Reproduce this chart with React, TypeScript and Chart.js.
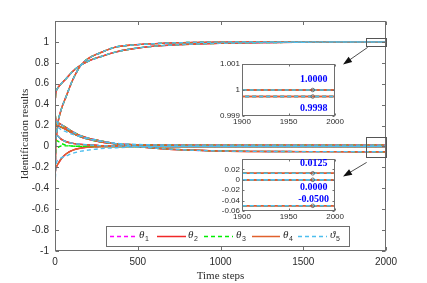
import React, { useEffect, useRef } from 'react';
import { Chart, registerables } from 'chart.js';
Chart.register(...registerables);

// ---------- data ----------
const steps = [0, 2, 5, 10, 17, 37, 68, 108, 158, 200, 270, 370, 450, 570, 770, 1000, 1300, 1600, 1900, 2000];

// shared trajectories (value at index 0 replaced by each series' start value)
const pathToOne = [0, -0.2, 0.05, 0.12, 0.22, 0.35, 0.48, 0.64, 0.78, 0.84, 0.894, 0.952, 0.968, 0.981, 0.993, 0.998, 0.9995, 0.9999, 1.0, 1.0];
const pathNearOne = [0, 0.45, 0.52, 0.54, 0.56, 0.6, 0.65, 0.72, 0.78, 0.815, 0.856, 0.905, 0.93, 0.955, 0.975, 0.987, 0.994, 0.998, 0.99975, 0.99975];
const pathToPos = [0, 0.25, 0.21, 0.205, 0.2, 0.185, 0.16, 0.125, 0.09, 0.07, 0.045, 0.025, 0.018, 0.014, 0.0128, 0.0125, 0.0125, 0.0125, 0.0125, 0.0125];
const pathToNeg = [0, 0.3, 0.24, 0.235, 0.228, 0.21, 0.18, 0.14, 0.1, 0.08, 0.055, 0.025, 0.008, -0.012, -0.032, -0.043, -0.048, -0.0495, -0.05, -0.05];
const pathZeroUpper = [0, 0.15, 0.12, 0.11, 0.1, 0.07, 0.045, 0.03, 0.02, 0.015, 0.008, 0.004, 0.002, 0.001, 0, 0, 0, 0, 0, 0];
const pathZeroLower = [0, -0.25, -0.2, -0.19, -0.17, -0.12, -0.07, -0.035, -0.015, -0.008, -0.002, 0, 0, 0, 0, 0, 0, 0, 0, 0];

// series-specific trajectories
const theta3ZeroUpper = [0, 0.08, 0.06, 0.055, 0.05, 0.03, 0.012, 0.004, 0.001, 0, 0, 0, 0, 0, 0, 0, 0, 0, 0, 0];
const theta3ZeroLower = [0, -0.1, -0.03, -0.015, -0.01, 0.005, 0.006, 0.003, 0.001, 0, 0, 0, 0, 0, 0, 0, 0, 0, 0, 0];
const theta5Pos = [0, 0.1, 0.15, 0.17, 0.18, 0.16, 0.14, 0.115, 0.09, 0.072, 0.05, 0.03, 0.022, 0.016, 0.013, 0.0125, 0.0125, 0.0125, 0.0125, 0.0125];
const theta5Lower = [0, -0.3, -0.2, -0.15, -0.13, -0.11, -0.09, -0.065, -0.045, -0.035, -0.022, -0.012, -0.007, -0.003, -0.001, 0, 0, 0, 0, 0];

// start values at step 0, one per trajectory
const theta1Start = [0.95, 0.3, 0.1, 0.2, -0.1, 0.05];
const theta2Start = [0.6, 0.5, -0.3, 0.3, -0.5, 0.2];
const theta3Start = [-0.8, 0.4, -0.6, 0.1, -0.3, 0.0];
const theta4Start = [0.9, 0.55, -0.45, 0.25, -0.2, 0.1];
const theta5Start = [-0.6, 0.2, -0.35, 0.15, -0.4, -0.1];

const legendNames = ['θ', 'θ', 'θ', 'θ', 'ϑ'];
const legendSubs = ['1', '2', '3', '4', '5'];

const xTicks = [0, 500, 1000, 1500, 2000];
const markerStep = 1976;
const insetTopLabels = ['1.0000', '0.9998'];
const insetBottomLabels = ['0.0125', '0.0000', '-0.0500'];

// ---------- styling ----------
const SANS = "'Liberation Sans', Arial, sans-serif";
const SERIF = "'Liberation Serif', 'DejaVu Serif', serif";
const FRAME = '#6e6e6e';
const TEXT = '#2b2b2b';

type Series = { color: string; dash: number[]; start: number[]; paths: number[][] };
const series: Series[] = [
  { color: '#ff00ff', dash: [4, 3], start: theta1Start, paths: [pathToOne, pathNearOne, pathToPos, pathToNeg, pathZeroUpper, pathZeroLower] },
  { color: '#f02828', dash: [], start: theta2Start, paths: [pathToOne, pathNearOne, pathToPos, pathToNeg, pathZeroUpper, pathZeroLower] },
  { color: '#00ee00', dash: [4, 3], start: theta3Start, paths: [pathToOne, pathNearOne, pathToPos, pathToNeg, theta3ZeroUpper, theta3ZeroLower] },
  { color: '#e0602c', dash: [], start: theta4Start, paths: [pathToOne, pathNearOne, pathToPos, pathToNeg, pathZeroUpper, pathZeroLower] },
  { color: '#4dbeee', dash: [4, 3], start: theta5Start, paths: [pathToOne, pathNearOne, theta5Pos, pathToNeg, pathZeroUpper, theta5Lower] },
];

function lineDatasets(): any[] {
  return series.flatMap((s, si) =>
    s.paths.map((p, k) => ({
      type: 'line',
      data: steps.map((t, i) => ({ x: t, y: i === 0 ? s.start[k] : p[i] })),
      borderColor: s.color,
      borderDash: s.dash,
      borderWidth: 1.4,
      pointRadius: 0,
      fill: false,
      cubicInterpolationMode: 'monotone',
      order: series.length - si,
    }))
  );
}

function markerDataset(): any {
  const finals = [pathToOne, pathNearOne, pathToPos, pathToNeg, pathZeroUpper].map((p) => p[p.length - 1]);
  return {
    type: 'scatter',
    data: finals.map((v) => ({ x: markerStep, y: v })),
    pointRadius: 1.8,
    pointStyle: 'circle',
    borderColor: '#555',
    backgroundColor: 'rgba(0,0,0,0)',
    borderWidth: 0.8,
    order: -1,
  };
}

function arrow(ctx: CanvasRenderingContext2D, x0: number, y0: number, x1: number, y1: number) {
  const ang = Math.atan2(y1 - y0, x1 - x0);
  const len = 9, hw = 3.2;
  ctx.beginPath();
  ctx.moveTo(x0, y0);
  ctx.lineTo(x1 - Math.cos(ang) * len * 0.8, y1 - Math.sin(ang) * len * 0.8);
  ctx.stroke();
  const bx = x1 - Math.cos(ang) * len, by = y1 - Math.sin(ang) * len;
  ctx.beginPath();
  ctx.moveTo(x1, y1);
  ctx.lineTo(bx + Math.sin(ang) * hw, by - Math.cos(ang) * hw);
  ctx.lineTo(bx - Math.sin(ang) * hw, by + Math.cos(ang) * hw);
  ctx.closePath();
  ctx.fill();
}

function drawFrame(chart: any, tickLen: number, xVals: number[], yVals: number[]) {
  const { ctx, chartArea: a, scales } = chart;
  const L = Math.round(a.left) + 0.5, R = Math.round(a.right) - 0.5;
  const T = Math.round(a.top) + 0.5, B = Math.round(a.bottom) - 0.5;
  ctx.save();
  ctx.strokeStyle = FRAME;
  ctx.lineWidth = 1;
  ctx.setLineDash([]);
  ctx.strokeRect(L, T, R - L, B - T);
  ctx.beginPath();
  xVals.forEach((v) => {
    const px = Math.round(scales.x.getPixelForValue(v)) + 0.5;
    ctx.moveTo(px, B); ctx.lineTo(px, B - tickLen);
    ctx.moveTo(px, T); ctx.lineTo(px, T + tickLen);
  });
  yVals.forEach((v) => {
    const py = Math.round(scales.y.getPixelForValue(v)) + 0.5;
    ctx.moveTo(L, py); ctx.lineTo(L + tickLen, py);
    ctx.moveTo(R, py); ctx.lineTo(R - tickLen, py);
  });
  ctx.stroke();
  ctx.restore();
}

const whiteArea = {
  id: 'whiteArea',
  beforeDatasetsDraw(chart: any) {
    const { ctx, chartArea: a } = chart;
    ctx.save();
    ctx.fillStyle = '#ffffff';
    ctx.fillRect(a.left, a.top, a.right - a.left, a.bottom - a.top);
    ctx.restore();
  },
};

const INSET_RIGHT = 338;
const INSET1_TOP = 64;
const INSET2_TOP = 159;

const mainDecor = {
  id: 'mainDecor',
  afterDraw(chart: any) {
    const { ctx, chartArea: a, scales } = chart;
    const yVals: number[] = [];
    for (let v = -10; v <= 10; v += 2) yVals.push(v / 10);
    drawFrame(chart, 3.5, xTicks, yVals);

    ctx.save();
    // zoom rectangles
    const x1 = scales.x.getPixelForValue(1880);
    const rects = [[1.035, 0.962], [0.09, -0.1]];
    ctx.strokeStyle = '#555';
    ctx.lineWidth = 1;
    rects.forEach(([hi, lo]) => {
      const t = scales.y.getPixelForValue(hi), b = scales.y.getPixelForValue(lo);
      ctx.strokeRect(Math.round(x1) + 0.5, Math.round(t) + 0.5, Math.round(a.right) - Math.round(x1), Math.round(b) - Math.round(t));
    });
    // arrows
    ctx.strokeStyle = '#222';
    ctx.fillStyle = '#111';
    ctx.lineWidth = 0.8;
    const upB = scales.y.getPixelForValue(0.962);
    const loB = scales.y.getPixelForValue(-0.1);
    arrow(ctx, x1 + 1.5, upB + 1.5, INSET_RIGHT + 5, INSET1_TOP + 0.5);
    arrow(ctx, x1 + 0.5, loB + 5.5, INSET_RIGHT + 5, INSET2_TOP + 17.5);

    // legend
    const lx0 = 106.5, lx1 = 349.5, ly0 = 226.5, ly1 = 246.5;
    ctx.fillStyle = '#fff';
    ctx.fillRect(lx0, ly0, lx1 - lx0, ly1 - ly0);
    ctx.strokeStyle = FRAME;
    ctx.lineWidth = 1;
    ctx.strokeRect(lx0, ly0, lx1 - lx0, ly1 - ly0);
    const segs = [[110, 135, 139], [157, 186, 188], [204, 233, 236], [252, 280, 283], [298, 327, 330]];
    const cy = 236.5;
    series.forEach((s, i) => {
      const [s0, s1, tx] = segs[i];
      ctx.strokeStyle = s.color;
      ctx.lineWidth = 1.5;
      ctx.setLineDash(s.dash);
      ctx.beginPath();
      ctx.moveTo(s0, cy);
      ctx.lineTo(s1, cy);
      ctx.stroke();
      ctx.setLineDash([]);
      ctx.fillStyle = TEXT;
      ctx.textBaseline = 'middle';
      ctx.textAlign = 'left';
      ctx.font = `italic 11px ${SERIF}`;
      ctx.fillText(legendNames[i], tx, cy - 1);
      const w = ctx.measureText(legendNames[i]).width;
      ctx.font = `7px ${SANS}`;
      ctx.fillText(legendSubs[i], tx + w + 0.5, cy + 3);
    });

    // axis titles
    ctx.fillStyle = TEXT;
    ctx.font = `11px ${SERIF}`;
    ctx.textAlign = 'center';
    ctx.textBaseline = 'middle';
    ctx.fillText('Time steps', 220.5, 276.5);
    ctx.translate(25, 134);
    ctx.rotate(-Math.PI / 2);
    ctx.fillText('Identification results', 0, 0);
    ctx.restore();
  },
};

function insetDecor(id: string, yVals: number[], labels: string[], labelYs: number[]) {
  return {
    id,
    afterDraw(chart: any) {
      drawFrame(chart, 2, [1900, 1950, 2000], yVals);
      const { ctx, scales } = chart;
      ctx.save();
      ctx.fillStyle = '#0000ff';
      ctx.font = `bold 10px ${SERIF}`;
      ctx.textAlign = 'center';
      ctx.textBaseline = 'middle';
      labels.forEach((t, i) => {
        ctx.fillText(t, scales.x.getPixelForValue(1977), scales.y.getPixelForValue(labelYs[i]));
      });
      ctx.restore();
    },
  };
}

function insetConfig(yMin: number, yMax: number, yStep: number, digits: number, hideAbove: number, plugin: any): any {
  return {
    data: { datasets: [...lineDatasets(), markerDataset()] },
    options: {
      responsive: false,
      animation: false,
      events: [],
      layout: { padding: { top: 8, right: 7, left: 0, bottom: 0 } },
      plugins: { legend: { display: false }, tooltip: { enabled: false } },
      scales: {
        x: {
          type: 'linear', min: 1900, max: 2000,
          grid: { display: false, drawTicks: false }, border: { display: false },
          ticks: { stepSize: 50, padding: 1, autoSkip: false, maxRotation: 0, color: TEXT, font: { family: SANS, size: 8 }, callback: (v: number) => String(v) },
          afterFit: (s: any) => { s.height = 15; },
        },
        y: {
          type: 'linear', min: yMin, max: yMax,
          grid: { display: false, drawTicks: false }, border: { display: false },
          ticks: {
            stepSize: yStep, padding: 2, autoSkip: false, color: TEXT, font: { family: SANS, size: 8 },
            callback: (v: number) => (v > hideAbove ? '' : String(parseFloat(v.toFixed(digits)))),
          },
          afterFit: (s: any) => { s.width = 42; },
        },
      },
    },
    plugins: [whiteArea, plugin],
  };
}

export default function App() {
  const mainRef = useRef<HTMLCanvasElement>(null);
  const in1Ref = useRef<HTMLCanvasElement>(null);
  const in2Ref = useRef<HTMLCanvasElement>(null);

  useEffect(() => {
    document.body.style.margin = '0';
    const main = new Chart(mainRef.current as HTMLCanvasElement, {
      data: { datasets: lineDatasets() },
      options: {
        responsive: false,
        animation: false,
        events: [],
        layout: { padding: { top: 21, right: 41, left: 0, bottom: 0 } },
        plugins: { legend: { display: false }, tooltip: { enabled: false } },
        scales: {
          x: {
            type: 'linear', min: 0, max: 2000,
            grid: { display: false, drawTicks: false }, border: { display: false },
            ticks: { stepSize: 500, padding: 5, autoSkip: false, maxRotation: 0, color: TEXT, font: { family: SANS, size: 10 }, callback: (v: number) => String(v) },
            afterFit: (s: any) => { s.height = 32; },
          },
          y: {
            type: 'linear', min: -1, max: 1.2,
            grid: { display: false, drawTicks: false }, border: { display: false },
            ticks: {
              stepSize: 0.2, padding: 6, autoSkip: false, color: TEXT, font: { family: SANS, size: 10 },
              callback: (v: number) => (v > 1.05 ? '' : String(Math.round(v * 10) / 10)),
            },
            afterFit: (s: any) => { s.width = 55; },
          },
        },
      },
      plugins: [mainDecor],
    } as any);
    const in1 = new Chart(in1Ref.current as HTMLCanvasElement,
      insetConfig(0.999, 1.001, 0.001, 3, 2, insetDecor('in1', [0.999, 1, 1.001], insetTopLabels, [1.0004, 0.9993])));
    const in2 = new Chart(in2Ref.current as HTMLCanvasElement,
      insetConfig(-0.06, 0.04, 0.02, 2, 0.03, insetDecor('in2', [-0.06, -0.04, -0.02, 0, 0.02, 0.04], insetBottomLabels, [0.031, -0.0142, -0.038])));
    return () => { main.destroy(); in1.destroy(); in2.destroy(); };
  }, []);

  return (
    <div style={{ position: 'relative', width: 427, height: 283, background: '#fff' }}>
      <canvas ref={mainRef} width={427} height={283} style={{ position: 'absolute', left: 0, top: 0 }} />
      <canvas ref={in1Ref} width={145} height={75} style={{ position: 'absolute', left: 200, top: 56 }} />
      <canvas ref={in2Ref} width={145} height={75} style={{ position: 'absolute', left: 200, top: 151 }} />
    </div>
  );
}
